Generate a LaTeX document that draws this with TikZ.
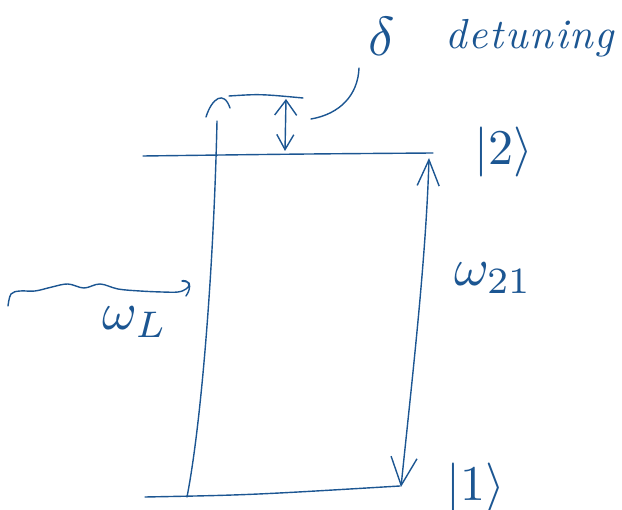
\documentclass[tikz,border=0pt]{standalone}
\usetikzlibrary{arrows.meta}
\definecolor{ink}{RGB}{28,86,146}
\begin{document}
\begin{tikzpicture}[x=1pt,y=-1pt,
  pen/.style={draw=ink,line width=1.4pt,line cap=round,line join=round},
  lbl/.style={text=ink,inner sep=0pt,anchor=center}]
\useasboundingbox (0,0) rectangle (622,510);

% energy levels
\coordinate (g1) at (145,497);
\coordinate (g2) at (400,486);
\coordinate (e1) at (143,156);
\coordinate (e2) at (433,153);
\draw[pen] (g1) .. controls (250,495) .. (g2);
\draw[pen] (e1) .. controls (300,154) .. (e2);

% virtual level reached by the laser photon
\coordinate (v1) at (229,96);
\coordinate (v2) at (303,98);
\draw[pen] (v1) .. controls (260,94) .. (v2);

% laser excitation from the ground state
\coordinate (la) at (187,497);
\coordinate (lb) at (217,121);
\draw[pen] (la) .. controls (202,420) and (214,260) .. (lb);
\draw[pen] (206,117) .. controls (212,98) and (224,90) .. (230,108);

% detuning arrow
\coordinate (da) at (286,99);
\coordinate (db) at (285,151);
\draw[pen,{Straight Barb[length=15pt,width=22pt]}-{Straight Barb[length=15pt,width=17pt]}] (da) -- (db);

% pointer from the label to the detuning
\coordinate (pa) at (311,119);
\coordinate (pb) at (359,68);
\draw[pen] (pa) .. controls (340,114) and (358,95) .. (pb);

% transition arrow between the two levels
\coordinate (ta) at (401,487);
\coordinate (tb) at (429,158);
\draw[pen,{Straight Barb[length=28pt,width=26pt]}-{Straight Barb[length=26pt,width=22pt]}]
  (ta) .. controls (412,380) and (426,260) .. (tb);

% incoming laser wave
\draw[pen] plot[smooth,tension=0.6] coordinates {
  (8,306) (11,294) (20,291) (35,291) (52,287) (68,284) (84,288)
  (100,284) (118,289) (140,291) (162,292) (178,292) (186,289)
  (189,285) (186,281) (182,281) (189,283) (189,290) (186,296)};

% labels
\node[lbl] (delta) at (382,36) {\scalebox{5.5}{$\delta$}};
\node[lbl] (det) at (530,38)
  {\scalebox{4.2}{\itshape d\kern0.4pt e\kern0.4pt t\kern0.4pt u\kern0.4pt n\kern0.4pt i\kern0.4pt n\kern0.4pt g}};
\node[lbl] (k2) at (504,152) {\scalebox{5}{$|2\rangle$}};
\node[lbl] (w21) at (493,278) {\scalebox{5.3}{$\omega_{21}$}};
\node[lbl] (wl) at (135,322) {\scalebox{5.3}{$\omega_L$}};
\node[lbl] (k1) at (476,488) {\scalebox{5}{$|1\rangle$}};
\end{tikzpicture}
\end{document}
